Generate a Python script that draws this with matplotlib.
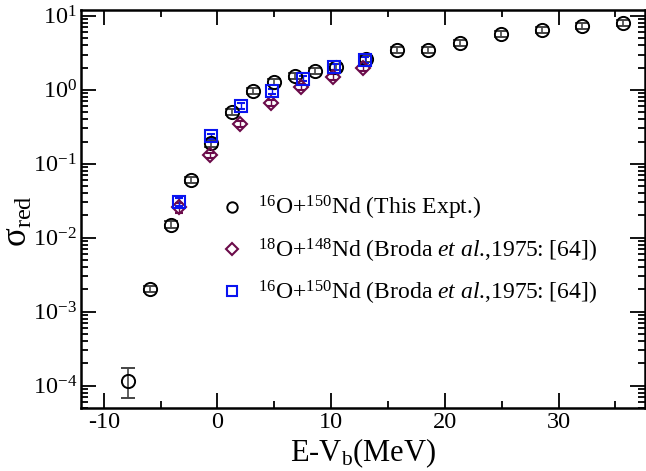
import numpy as np
import matplotlib
matplotlib.use("Agg")
from matplotlib import pyplot as plt
from matplotlib.lines import Line2D
from matplotlib.ticker import LogLocator, FuncFormatter, MultipleLocator, NullFormatter

plt.rcParams['font.family'] = ['Liberation Serif', 'DejaVu Serif']
plt.rcParams['mathtext.fontset'] = 'custom'
plt.rcParams['mathtext.rm'] = 'Liberation Serif'
plt.rcParams['mathtext.it'] = 'Liberation Serif:italic'
plt.rcParams['mathtext.bf'] = 'Liberation Serif:bold'
plt.rcParams['axes.unicode_minus'] = False

# this experiment, 16O+150Nd
x_expt = [-7.83, -5.89, -4.13, -2.32, -0.55, 1.29, 3.13, 4.94, 6.81, 8.58,
          10.42, 13.1, 15.8, 18.5, 21.3, 24.9, 28.5, 32.1, 35.7]
y_expt = [1.17e-4, 2.04e-3, 0.015, 0.061, 0.19, 0.50, 0.97, 1.28, 1.55, 1.80,
          2.04, 2.63, 3.47, 3.47, 4.3, 5.7, 6.5, 7.3, 8.0]
err_lo_expt = [4.8e-5, 2.2e-4, 1.6e-3, 6e-3, 0.02, 0.05, 0.1, 0.13, 0.16, 0.18,
               0.2, 0.27, 0.35, 0.35, 0.43, 0.57, 0.65, 0.73, 0.8]
err_hi_expt = [5.8e-5, 2.2e-4, 1.6e-3, 6e-3, 0.02, 0.05, 0.1, 0.13, 0.16, 0.18,
               0.2, 0.27, 0.35, 0.35, 0.43, 0.57, 0.65, 0.73, 0.8]

# Broda et al. 1975, 18O+148Nd
x_18o = [-3.40, -0.66, 2.02, 4.72, 7.36, 10.17, 12.82]
y_18o = [0.0257, 0.130, 0.347, 0.667, 1.10, 1.50, 1.98]
err_18o = [0.004, 0.012, 0.03, 0.06, 0.1, 0.13, 0.18]

# Broda et al. 1975, 16O+150Nd
x_16o = [-3.40, -0.56, 2.11, 4.82, 7.55, 10.29, 13.0]
y_16o = [0.0306, 0.235, 0.608, 0.949, 1.42, 2.03, 2.54]
err_16o = [0.004, 0.02, 0.05, 0.08, 0.12, 0.17, 0.21]

labels = ['$^{16}$O+$^{150}$Nd (This Expt.)',
          '$^{18}$O+$^{148}$Nd (Broda $\\it{et\\ al}$.,1975: [64])',
          '$^{16}$O+$^{150}$Nd (Broda $\\it{et\\ al}$.,1975: [64])']

maroon = '#6b0b4a'
blue = '#0a14f0'

fig = plt.figure(figsize=(6.46, 4.71), dpi=100)
ax = fig.add_axes([0.1254, 0.1338, 0.8731, 0.845])

ax.errorbar(x_expt, y_expt, yerr=[err_lo_expt, err_hi_expt], fmt='o', ms=9.5,
            mfc='none', mec='black', mew=1.4, ecolor='#444444', elinewidth=1.2,
            capsize=5, capthick=1.2)
ax.errorbar(x_18o, y_18o, yerr=err_18o, fmt='D', ms=7, mfc='none', mec=maroon,
            mew=1.5, ecolor=maroon, elinewidth=1.0, capsize=3, capthick=1.0)
ax.errorbar(x_16o, y_16o, yerr=err_16o, fmt='s', ms=8, mfc='none', mec=blue,
            mew=1.5, ecolor=blue, elinewidth=1.0, capsize=3, capthick=1.0)

ax.set_yscale('log')
ax.set_xlim(-12, 37.6)
ax.set_ylim(5e-5, 12)

ax.xaxis.set_major_locator(MultipleLocator(10))
ax.xaxis.set_minor_locator(MultipleLocator(5))
ax.yaxis.set_major_locator(LogLocator(base=10, numticks=20))
ax.yaxis.set_minor_locator(LogLocator(base=10, subs=np.arange(2, 10), numticks=20))
ax.yaxis.set_major_formatter(FuncFormatter(lambda v, p: '$10^{%d}$' % int(round(np.log10(v)))))
ax.yaxis.set_minor_formatter(NullFormatter())

ax.tick_params(which='both', direction='in', top=True, right=True, labelsize=17.5, width=1.3)
ax.tick_params(which='major', length=11, pad=3)
ax.tick_params(which='minor', length=5)
for s in ax.spines.values():
    s.set_linewidth(1.8)

ax.set_xlabel('E-V$_{\\rm b}$(MeV)', fontsize=22)
ax.xaxis.set_label_coords(0.5, -0.072, transform=ax.transAxes)
ax.xaxis.label.set_va('top')
ax.set_ylabel('σ$_{\\rm red}$', fontsize=25)
ax.yaxis.set_label_coords(-0.082, 0.47)

handles = [Line2D([], [], ls='none', marker='o', ms=7.5, mfc='none', mec='black', mew=1.4),
           Line2D([], [], ls='none', marker='D', ms=6.5, mfc='none', mec=maroon, mew=1.5),
           Line2D([], [], ls='none', marker='s', ms=7.5, mfc='none', mec=blue, mew=1.5)]
ax.legend(handles, labels, loc='upper left', bbox_to_anchor=(0.226, 0.567), frameon=False,
          fontsize=17, handlelength=1.0, handletextpad=0.6, labelspacing=0.6,
          borderpad=0)

fig.savefig('out.png', dpi=100)
